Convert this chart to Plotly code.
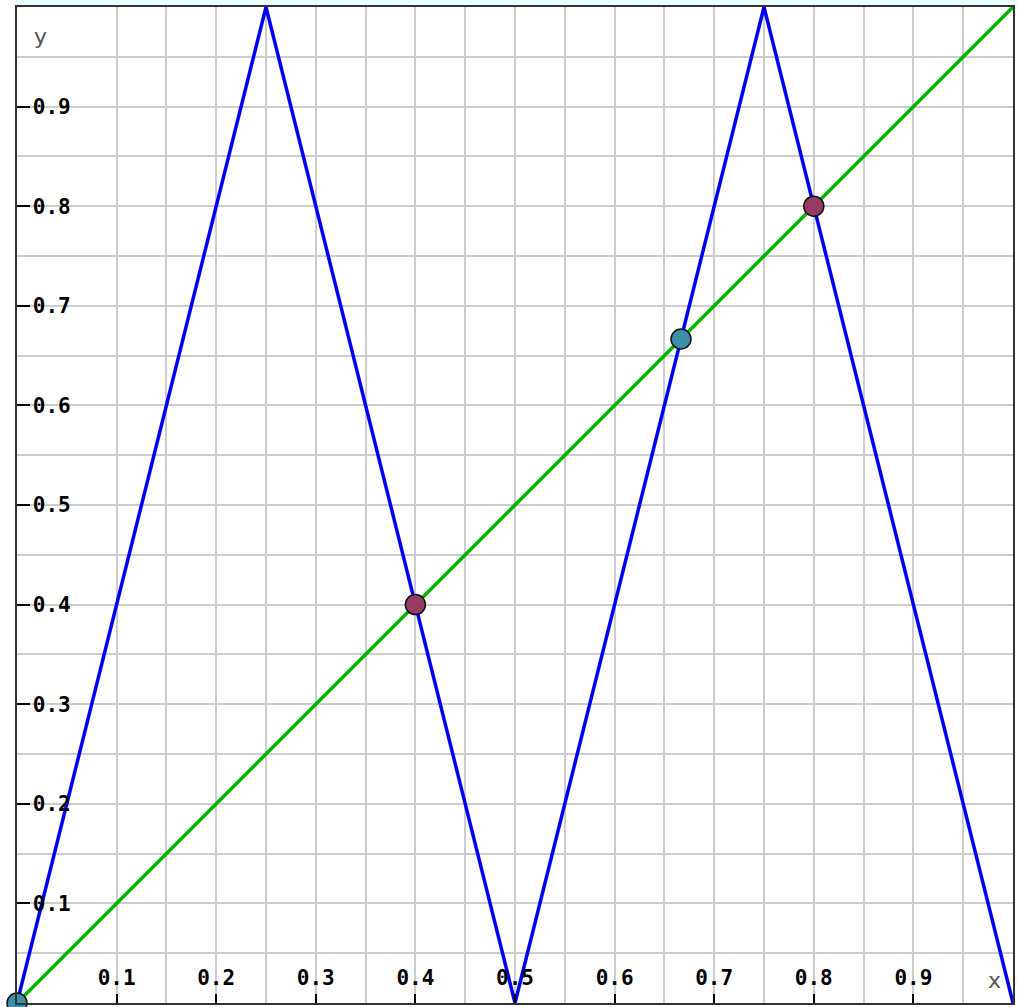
import plotly.graph_objects as go

# curves
tent_x = [0, 0.25, 0.5, 0.75, 1]
tent_y = [0, 1, 0, 1, 0]
diag_x = [0, 1]
diag_y = [0, 1]

# fixed points
fixed_x = [0, 0.4, 2 / 3, 0.8]
fixed_y = [0, 0.4, 2 / 3, 0.8]
fixed_colors = ['#3b8fa6', '#963a66', '#3b8fa6', '#963a66']

tick_vals = [0.1, 0.2, 0.3, 0.4, 0.5, 0.6, 0.7, 0.8, 0.9]
tick_text = ['0.1', '0.2', '0.3', '0.4', '0.5', '0.6', '0.7', '0.8', '0.9']

fig = go.Figure()

fig.add_trace(go.Scatter(x=diag_x, y=diag_y, mode='lines',
                         line=dict(color='#00b400', width=3.5), hoverinfo='skip'))
fig.add_trace(go.Scatter(x=tent_x, y=tent_y, mode='lines',
                         line=dict(color='#0000f0', width=3.5), hoverinfo='skip'))
fig.add_trace(go.Scatter(x=fixed_x, y=fixed_y, mode='markers', cliponaxis=False,
                         marker=dict(size=20, color=fixed_colors,
                                     line=dict(color='#111111', width=1.5))))

tickfont = dict(family='DejaVu Sans Mono', size=21, color='black', weight='bold')

axis_common = dict(
    range=[0, 1],
    tickvals=tick_vals,
    ticktext=tick_text,
    ticks='inside',
    tickwidth=2,
    tickcolor='black',
    ticklabelposition='inside',
    tickfont=tickfont,
    showgrid=True,
    gridcolor='#cccccc',
    gridwidth=2,
    minor=dict(dtick=0.05, tick0=0, showgrid=True, gridcolor='#cccccc', gridwidth=2),
    zeroline=False,
    showline=True,
    linecolor='#333333',
    linewidth=2,
    mirror=True,
    fixedrange=True,
)

fig.update_layout(
    width=1017, height=1007,
    margin=dict(l=17, r=2, t=7, b=4),
    paper_bgcolor='white',
    plot_bgcolor='white',
    showlegend=False,
    hovermode=False,
    xaxis=dict(axis_common, ticklen=9, ticklabelstandoff=6),
    yaxis=dict(axis_common, ticklen=13, ticklabelstandoff=4),
    shapes=[dict(type='rect', xref='paper', yref='paper', x0=0, x1=1.01,
                 y0=1.001, y1=1.02, fillcolor='#eaffff', line=dict(width=0), layer='below')],
    annotations=[
        dict(x=0, y=1, xref='paper', yref='paper', xanchor='left', yanchor='top',
             xshift=15, yshift=-15, text='y', showarrow=False,
             font=dict(family='DejaVu Sans', size=22, color='#555555')),
        dict(x=1, y=0, xref='paper', yref='paper', xanchor='right', yanchor='bottom',
             xshift=-10, yshift=8, text='x', showarrow=False,
             font=dict(family='DejaVu Sans', size=22, color='#555555')),
    ],
)

fig.write_html("out.html", config={'displayModeBar': False},
               post_script="document.body.style.margin='0';document.body.style.overflow='hidden';")
